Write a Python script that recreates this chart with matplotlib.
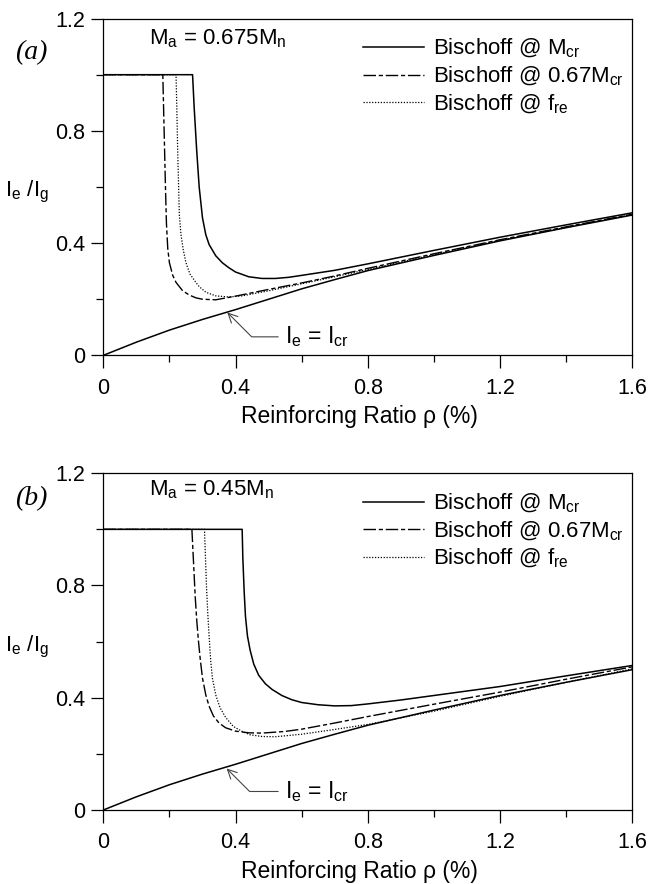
import numpy as np
import matplotlib
matplotlib.use("Agg")
import matplotlib.pyplot as plt

plt.rcParams['font.family'] = ['Liberation Sans', 'DejaVu Sans']
plt.rcParams['mathtext.fontset'] = 'custom'
plt.rcParams['mathtext.rm'] = 'Liberation Sans'
plt.rcParams['mathtext.it'] = 'Liberation Sans'

# cracked moment of inertia (same in both panels)
rho_cr = [0, 0.1, 0.2, 0.3, 0.4, 0.5, 0.6, 0.7, 0.8, 1.0, 1.2, 1.4, 1.6]
ie_cr = [0, 0.047, 0.09, 0.128, 0.163, 0.2, 0.237, 0.27, 0.302, 0.356, 0.408, 0.455, 0.50]

# panel (a): Ma = 0.675 Mn
rho_a_mcr = [0, 0.27, 0.275, 0.2825, 0.29, 0.30, 0.31, 0.32, 0.34, 0.36, 0.38, 0.40, 0.44,
             0.48, 0.52, 0.56, 0.6, 0.7, 0.8, 0.9, 1.0, 1.2, 1.4, 1.6]
ie_a_mcr = [1.0, 1.0, 0.88, 0.73, 0.60, 0.49, 0.43, 0.395, 0.355, 0.33, 0.312, 0.297, 0.28,
            0.274, 0.274, 0.278, 0.285, 0.303, 0.326, 0.35, 0.374, 0.421, 0.465, 0.508]
rho_a_067 = [0, 0.18, 0.182, 0.185, 0.188, 0.191, 0.195, 0.20, 0.21, 0.22, 0.24, 0.26, 0.28,
             0.30, 0.34, 0.4, 0.5, 0.6, 0.7, 0.8, 1.0, 1.2, 1.4, 1.6]
ie_a_067 = [1.0, 1.0, 0.9, 0.75, 0.6, 0.47, 0.38, 0.33, 0.285, 0.26, 0.23, 0.215, 0.205,
            0.2, 0.198, 0.211, 0.235, 0.258, 0.283, 0.31, 0.362, 0.412, 0.458, 0.503]
rho_a_fre = [0, 0.22, 0.222, 0.225, 0.23, 0.235, 0.242, 0.25, 0.262, 0.28, 0.29, 0.31, 0.34,
             0.38, 0.42, 0.5, 0.6, 0.7, 0.8, 1.0, 1.2, 1.4, 1.6]
ie_a_fre = [1.0, 1.0, 0.9, 0.73, 0.5, 0.43, 0.375, 0.33, 0.29, 0.26, 0.245, 0.225, 0.212,
            0.208, 0.212, 0.23, 0.255, 0.28, 0.306, 0.359, 0.41, 0.456, 0.502]

# panel (b): Ma = 0.45 Mn
rho_b_mcr = [0, 0.42, 0.422, 0.426, 0.43, 0.436, 0.444, 0.455, 0.47, 0.49, 0.51, 0.54, 0.57,
             0.6, 0.65, 0.7, 0.75, 0.8, 0.9, 1.0, 1.2, 1.4, 1.6]
ie_b_mcr = [1.0, 1.0, 0.9, 0.78, 0.69, 0.62, 0.57, 0.52, 0.48, 0.45, 0.43, 0.408, 0.393,
            0.383, 0.375, 0.371, 0.372, 0.378, 0.392, 0.408, 0.44, 0.478, 0.515]
rho_b_067 = [0, 0.268, 0.273, 0.278, 0.283, 0.288, 0.293, 0.30, 0.31, 0.32, 0.333, 0.35, 0.37,
             0.40, 0.44, 0.48, 0.55, 0.6, 0.7, 0.8, 1.0, 1.2, 1.4, 1.6]
ie_b_067 = [1.0, 1.0, 0.88, 0.76, 0.67, 0.6, 0.54, 0.47, 0.41, 0.37, 0.335, 0.31, 0.293,
            0.281, 0.275, 0.274, 0.28, 0.288, 0.31, 0.333, 0.377, 0.42, 0.466, 0.51]
rho_b_fre = [0, 0.306, 0.309, 0.312, 0.316, 0.32, 0.325, 0.33, 0.34, 0.353, 0.37, 0.393, 0.42,
             0.444, 0.48, 0.52, 0.6, 0.7, 0.8, 1.0, 1.2, 1.4, 1.6]
ie_b_fre = [1.0, 1.0, 0.9, 0.8, 0.7, 0.62, 0.53, 0.47, 0.41, 0.365, 0.33, 0.298, 0.28,
            0.268, 0.262, 0.261, 0.27, 0.287, 0.305, 0.352, 0.405, 0.455, 0.503]

labels = ["Bischoff @ M$_\\mathregular{cr}$", "Bischoff @ 0.67M$_\\mathregular{cr}$",
          "Bischoff @ f$_\\mathregular{re}$"]
x_ticks = [0, 0.4, 0.8, 1.2, 1.6]
y_ticks = [0, 0.4, 0.8, 1.2]

panels = [
    dict(tag="(a)", ma="M$_\\mathregular{a}$ = 0.675M$_\\mathregular{n}$",
         rho=[rho_a_mcr, rho_a_067, rho_a_fre], ie=[ie_a_mcr, ie_a_067, ie_a_fre],
         tag_y=0.90, ma_y=0.94, tip=(0.375, 0.153), txt=(0.55, 0.066),
         rect=[0.1594, 0.598, 0.8164, 0.381]),
    dict(tag="(b)", ma="M$_\\mathregular{a}$ = 0.45M$_\\mathregular{n}$",
         rho=[rho_b_mcr, rho_b_067, rho_b_fre], ie=[ie_b_mcr, ie_b_067, ie_b_fre],
         tag_y=0.926, ma_y=0.95, tip=(0.373, 0.148), txt=(0.55, 0.066),
         rect=[0.1594, 0.0837, 0.8164, 0.381]),
]

styles = ['-', (0, (9, 2, 3, 2)), (0, (1, 1.3))]
widths = [1.1, 1.0, 0.9]

fig = plt.figure(figsize=(6.48, 8.84), dpi=100)

for p in panels:
    ax = fig.add_axes(p['rect'])
    for r, v, ls, lw, lab in zip(p['rho'], p['ie'], styles, widths, labels):
        ax.plot(r, v, color='black', linestyle=ls, lw=lw, label=lab)
    ax.plot(rho_cr, ie_cr, color='black', lw=1.1)

    ax.set_xlim(0, 1.6)
    ax.set_ylim(0, 1.2)
    ax.set_xticks(x_ticks)
    ax.set_xticklabels(["0", "0.4", "0.8", "1.2", "1.6"])
    ax.set_yticks(y_ticks)
    ax.set_yticklabels(["0", "0.4", "0.8", "1.2"])
    ax.set_xticks(np.arange(0.2, 1.6, 0.4), minor=True)
    ax.set_yticks([0.2, 0.6, 1.0], minor=True)
    ax.tick_params(which='major', direction='out', length=9, width=0.9,
                   labelsize=15.5, pad=7)
    ax.tick_params(which='minor', direction='out', length=5, width=0.9)
    ax.tick_params(axis='y', pad=4)
    for s in ax.spines.values():
        s.set_linewidth(0.9)

    ax.set_xlabel("Reinforcing Ratio \u03c1 (%)", fontsize=16.5)
    ax.xaxis.set_label_coords(0.485, -0.148)
    ax.text(-0.144, 0.485, "I$_\\mathregular{e}$ /I$_\\mathregular{g}$", transform=ax.transAxes,
            ha='center', va='center', fontsize=16)
    ax.text(-0.137, p['tag_y'], p['tag'], transform=ax.transAxes, ha='center', va='center',
            fontsize=20, family='Liberation Serif', style='italic')
    ax.text(0.086, p['ma_y'], p['ma'], transform=ax.transAxes, ha='left', va='center',
            fontsize=16)

    ax.annotate("I$_\\mathregular{e}$ = I$_\\mathregular{cr}$", xy=p['tip'], xytext=p['txt'],
                ha='left', va='center', fontsize=16.5,
                arrowprops=dict(arrowstyle='->', color='#444444', lw=0.8,
                                shrinkA=3, shrinkB=0,
                                connectionstyle="angle,angleA=0,angleB=135,rad=0"))

    ax.legend(loc='upper left', bbox_to_anchor=(0.491, 0.945), frameon=False,
              fontsize=16, handlelength=2.75, handletextpad=0.4, borderpad=0,
              borderaxespad=0, labelspacing=0.2)

fig.savefig("out.png", dpi=100)
